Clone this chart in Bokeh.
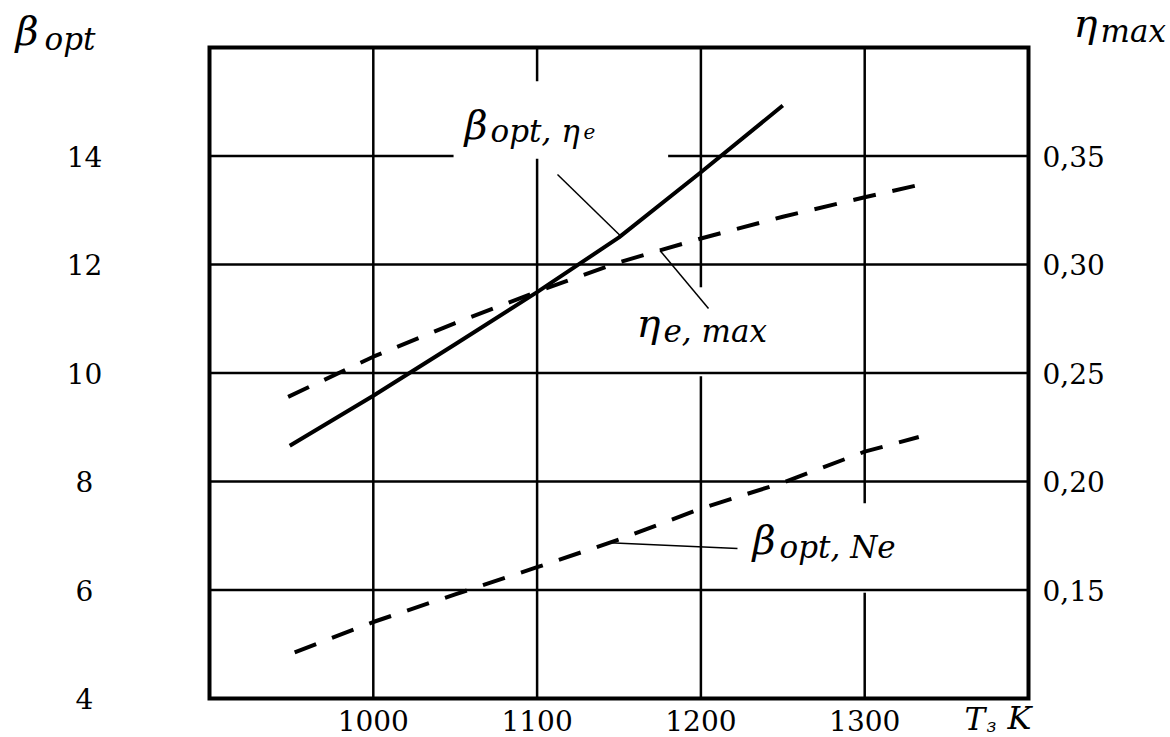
import numpy as np
from bokeh.plotting import figure
from bokeh.models import Range1d, Label
from bokeh.core.properties import value
from bokeh.embed import file_html
from bokeh.resources import INLINE

# ---------------- data ----------------
T_BETA_ETA = [949, 1000, 1050, 1100, 1150, 1200, 1250]
BETA_OPT_ETA = [8.66, 9.58, 10.53, 11.49, 12.50, 13.70, 14.93]

T_ETA_MAX = [948, 1000, 1050, 1100, 1150, 1200, 1250, 1300, 1335]
ETA_MAX = [0.239, 0.2575, 0.273, 0.2875, 0.301, 0.312, 0.322, 0.331, 0.337]

T_BETA_NE = [952, 1000, 1050, 1100, 1150, 1200, 1250, 1300, 1333]
BETA_OPT_NE = [4.85, 5.41, 5.92, 6.42, 6.93, 7.50, 7.98, 8.55, 8.82]

X_TICKS = [1000, 1100, 1200, 1300]
BETA_TICKS = [4, 6, 8, 10, 12, 14]
ETA_TICKS = [0.15, 0.20, 0.25, 0.30, 0.35]

X_BOX = (900, 1400)        # extent of the drawn axes box
BETA_BOX = (4, 16)
ETA_BOX = (0.10, 0.40)

# ---------------- layout (canvas pixels) ----------------
W, H = 1170, 737
BOX_L, BOX_R, BOX_T, BOX_B = 209, 1028, 47, 698
MID = 0.346   # distance of the text box middle above the baseline, in em

def px2x(px):
    return X_BOX[0] + (px - BOX_L) / (BOX_R - BOX_L) * (X_BOX[1] - X_BOX[0])

def py2b(py):
    return BETA_BOX[0] + (BOX_B - py) / (BOX_B - BOX_T) * (BETA_BOX[1] - BETA_BOX[0])

def py2eta(py):
    return ETA_BOX[0] + (BOX_B - py) / (BOX_B - BOX_T) * (ETA_BOX[1] - ETA_BOX[0])

# the plotting frame covers the whole canvas so that every text can be placed freely
p = figure(width=W, height=H, x_range=Range1d(px2x(0), px2x(W)),
           y_range=Range1d(py2b(H), py2b(0)),
           x_axis_location=None, y_axis_location=None,
           output_backend="svg", toolbar_location=None,
           min_border_left=0, min_border_right=0, min_border_top=0, min_border_bottom=0)
p.extra_y_ranges = {"eta": Range1d(py2eta(H), py2eta(0))}
p.xgrid.visible = False
p.ygrid.visible = False
p.outline_line_color = None
p.background_fill_color = "white"
p.border_fill_color = "white"

# ---------------- grid lines with gaps behind the labels ----------------
V_GAPS = {1100: [(13.95, 15.38)], 1200: [(9.94, 11.58)], 1300: [(5.95, 7.60)]}
H_GAPS = {14: [(1049, 1180)]}

def pieces(lo, hi, gaps):
    out, cur = [], lo
    for a, b in sorted(gaps):
        out.append((cur, a))
        cur = b
    out.append((cur, hi))
    return out

gx0, gy0, gx1, gy1 = [], [], [], []
for t in X_TICKS:
    for a, b in pieces(BETA_BOX[0], BETA_BOX[1], V_GAPS.get(t, [])):
        gx0.append(t); gx1.append(t); gy0.append(a); gy1.append(b)
for t in BETA_TICKS[1:]:
    for a, b in pieces(X_BOX[0], X_BOX[1], H_GAPS.get(t, [])):
        gx0.append(a); gx1.append(b); gy0.append(t); gy1.append(t)
p.segment(gx0, gy0, gx1, gy1, line_color="black", line_width=2.5)

# axes box
p.quad(left=[X_BOX[0]], right=[X_BOX[1]], bottom=[BETA_BOX[0]], top=[BETA_BOX[1]],
       fill_color=None, line_color="black", line_width=4, line_join="miter")

# ---------------- tick labels (from the tick arrays, through the scales) ----------------
TICK_FONT, TICK_PX = "DejaVu Serif", 28
TICK_SIZE = f"{TICK_PX}px"
p.text(x=X_TICKS, y=[py2b(730 - MID * TICK_PX)] * len(X_TICKS), text=[str(t) for t in X_TICKS],
       text_font=value(TICK_FONT), text_font_size=TICK_SIZE, text_align="center",
       text_baseline="middle", text_color="black")
p.text(x=[px2x(84)] * len(BETA_TICKS), y=BETA_TICKS, text=[str(t) for t in BETA_TICKS],
       text_font=value(TICK_FONT), text_font_size=TICK_SIZE, text_align="center",
       text_baseline="middle", text_color="black")
p.text(x=[px2x(1042)] * len(ETA_TICKS), y=ETA_TICKS, y_range_name="eta",
       text=[f"{t:.2f}".replace(".", ",") for t in ETA_TICKS],
       text_font=value(TICK_FONT), text_font_size=TICK_SIZE, text_align="left",
       text_baseline="middle", text_color="black")

# ---------------- curves ----------------
p.line(T_BETA_ETA, BETA_OPT_ETA, line_color="black", line_width=4, line_join="round")
p.line(T_ETA_MAX, ETA_MAX, y_range_name="eta", line_color="black", line_width=4,
       line_dash="23 17", line_cap="butt")
p.line(T_BETA_NE, BETA_OPT_NE, line_color="black", line_width=4,
       line_dash="23 17", line_cap="butt")

# ---------------- leader lines ----------------
x1 = 1151
p.segment([px2x(557)], [py2b(174)], [x1], [float(np.interp(x1, T_BETA_ETA, BETA_OPT_ETA))],
          line_color="black", line_width=1.5)
x2 = 1175
p.segment([x2], [float(np.interp(x2, T_ETA_MAX, ETA_MAX))], [px2x(708)], [py2eta(308)],
          y_range_name="eta", line_color="black", line_width=1.5)
x3 = 1144
p.segment([x3], [float(np.interp(x3, T_BETA_NE, BETA_OPT_NE))], [px2x(737)], [py2b(548)],
          line_color="black", line_width=1.5)

# ---------------- labels (px, baseline py, font px) ----------------
def lab(text, px, base_py, size, style="italic"):
    p.add_layout(Label(x=px2x(px), y=py2b(base_py - MID * size), text=text,
                       text_font="DejaVu Serif", text_font_style=style,
                       text_font_size=f"{size}px", text_color="black",
                       text_align="left", text_baseline="middle"))

BIG, SUB = 40, 31
# axis titles
lab("β", 15, 44, BIG); lab("opt", 44, 49, SUB)
lab("η", 1073, 36, BIG); lab("max", 1100, 41, SUB)
lab("T", 964, 729, 31); lab("з", 986, 731, 18); lab("K", 1007, 729, 32)
# curve labels
lab("β", 464, 138, BIG); lab("opt, η", 490, 141, SUB); lab("e", 583, 138, 20)
lab("η", 636, 336, BIG); lab("e, max", 663, 341, SUB)
lab("β", 752, 553, BIG); lab("opt, Ne", 779, 557, SUB)

open("out.html", "w").write(file_html(p, INLINE))
